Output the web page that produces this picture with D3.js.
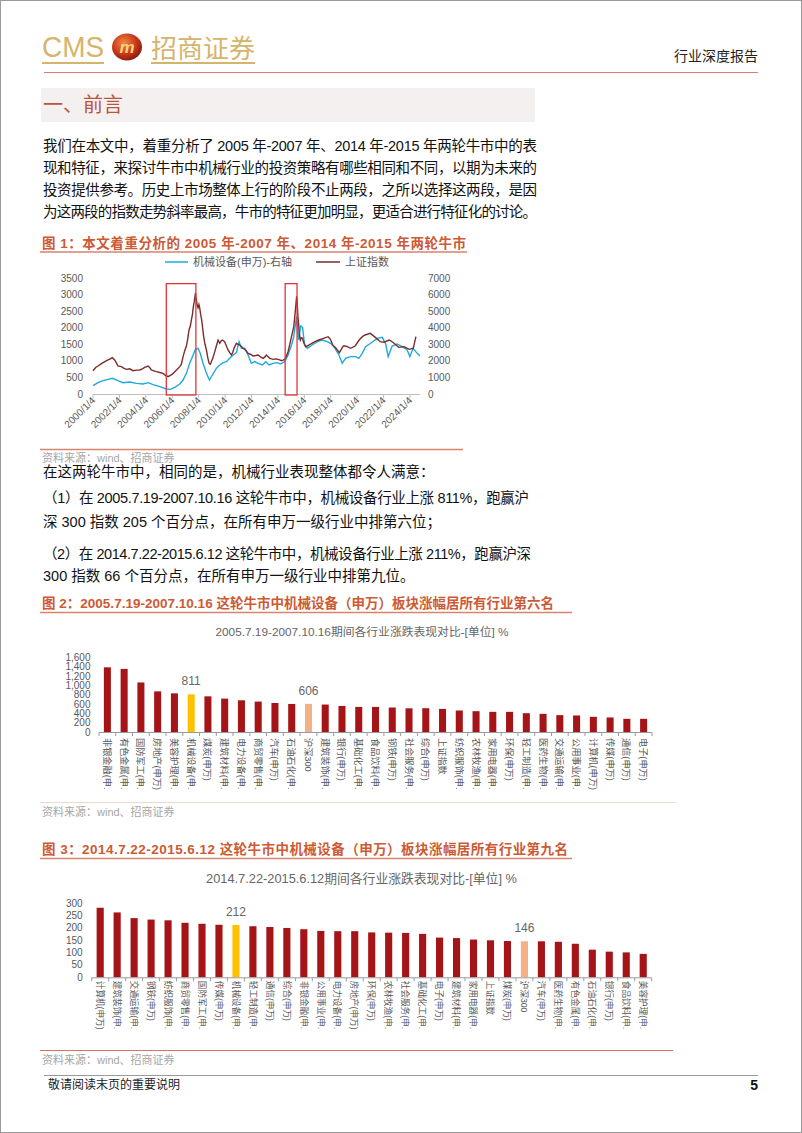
<!DOCTYPE html>
<html><head><meta charset="utf-8">
<script src="https://cdn.jsdelivr.net/npm/d3@7/dist/d3.min.js"></script>
<style>html,body{margin:0;padding:0;background:#fff}svg{display:block}</style>
</head><body>
<script>
// ---------- DATA ----------
// Chart 1: 上证指数 (left-axis units as drawn) and 机械设备(申万) (right axis)
const shYears = [2000.00,2000.20,2000.38,2000.58,2000.76,2000.96,2001.14,2001.31,2001.46,2001.64,2001.77,2001.89,2002.15,2002.32,2002.53,2002.78,2003.03,2003.28,2003.54,2003.74,2003.91,2004.17,2004.29,2004.42,2004.60,2004.80,2005.05,2005.30,2005.56,2005.71,2005.86,2006.01,2006.19,2006.36,2006.57,2006.69,2006.82,2006.94,2007.07,2007.17,2007.27,2007.37,2007.45,2007.53,2007.60,2007.67,2007.76,2007.80,2007.85,2007.90,2007.95,2008.02,2008.08,2008.15,2008.23,2008.30,2008.38,2008.48,2008.59,2008.69,2008.79,2008.89,2008.96,2009.09,2009.22,2009.34,2009.47,2009.60,2009.70,2009.80,2009.97,2010.10,2010.23,2010.35,2010.48,2010.58,2010.68,2010.86,2010.98,2011.11,2011.24,2011.36,2011.57,2011.74,2011.92,2012.12,2012.32,2012.50,2012.68,2012.88,2013.01,2013.13,2013.26,2013.38,2013.51,2013.64,2013.84,2014.02,2014.14,2014.27,2014.39,2014.52,2014.65,2014.77,2014.90,2015.03,2015.10,2015.20,2015.27,2015.34,2015.42,2015.47,2015.52,2015.57,2015.62,2015.70,2015.78,2015.86,2015.96,2016.10,2016.22,2016.50,2016.80,2017.10,2017.45,2017.80,2017.98,2018.15,2018.40,2018.65,2018.95,2019.10,2019.25,2019.50,2019.85,2020.15,2020.40,2020.60,2021.00,2021.40,2021.75,2022.05,2022.25,2022.45,2022.80,2023.15,2023.55,2023.95,2024.25,2024.45,2024.62,2024.72,2024.76];
const shValues = [700,800,845,900,945,990,1026,1060,1096,1026,940,845,825,780,744,760,704,720,724,760,805,845,800,724,700,673,650,623,543,530,563,600,673,740,825,900,1127,1300,1448,1650,1931,2050,2233,2400,2635,2800,3050,2900,2785,2650,2600,2700,2600,2400,2233,2000,1730,1500,1328,1100,926,900,976,1100,1277,1450,1629,1530,1600,1629,1580,1450,1328,1250,1177,1250,1379,1530,1500,1479,1430,1379,1320,1227,1200,1147,1160,1177,1120,1076,1120,1177,1120,1076,1060,1046,1060,1046,1030,1006,1020,1046,1150,1277,1500,1730,1850,2032,2300,2600,2950,2700,2334,2100,1831,1629,1700,1680,1550,1428,1448,1510,1580,1629,1680,1729,1650,1480,1379,1248,1448,1448,1428,1379,1448,1629,1730,1780,1830,1700,1578,1560,1600,1630,1530,1408,1428,1348,1379,1730];

const mechYears = [2000.00,2000.38,2000.76,2001.14,2001.46,2001.89,2002.27,2002.78,2003.28,2003.79,2004.17,2004.55,2005.05,2005.56,2005.86,2006.19,2006.57,2006.82,2007.07,2007.32,2007.53,2007.73,2007.95,2008.12,2008.33,2008.59,2008.82,2009.04,2009.34,2009.60,2009.85,2010.10,2010.35,2010.61,2010.86,2011.06,2011.24,2011.49,2011.74,2011.99,2012.25,2012.50,2012.83,2013.08,2013.33,2013.64,2013.94,2014.19,2014.52,2014.77,2015.03,2015.20,2015.33,2015.42,2015.50,2015.58,2015.72,2015.87,2016.02,2016.22,2016.60,2016.98,2017.36,2017.74,2017.99,2018.24,2018.62,2018.87,2019.12,2019.50,2019.88,2020.13,2020.38,2020.64,2021.02,2021.52,2021.90,2022.15,2022.35,2022.65,2023.03,2023.41,2023.79,2023.99,2024.24,2024.55,2024.76];
const mechValues = [504,684,804,886,946,804,684,724,644,604,684,564,442,302,282,402,604,844,1246,1852,2254,2656,2756,2454,1852,1246,844,1146,1548,1750,1890,1952,2152,2354,2496,3160,2758,2758,2354,1852,1952,1852,1750,1952,1750,1852,1890,1810,1952,2354,2958,3460,4200,4668,3700,3258,4104,4024,2958,2758,2958,3160,3258,3160,3060,2856,2354,1852,2152,2254,2254,2152,2454,2856,3060,3360,3420,3060,2254,2896,3020,2856,2656,2254,2758,2454,2294];

const bullPeriods = [[2005.55, 2007.79], [2014.55, 2015.45]];
const leftTicks = [0,500,1000,1500,2000,2500,3000,3500];
const rightTicks = [0,1000,2000,3000,4000,5000,6000,7000];
const yearTicks = [2000,2002,2004,2006,2008,2010,2012,2014,2016,2018,2020,2022,2024];

// Chart 2: 2005.7.19-2007.10.16
const cats2 = ["非银金融(申万)","有色金属(申万)","国防军工(申万)","房地产(申万)","美容护理(申万)","机械设备(申万)","煤炭(申万)","建筑材料(申万)","电力设备(申万)","商贸零售(申万)","汽车(申万)","石油石化(申万)","沪深300","建筑装饰(申万)","银行(申万)","基础化工(申万)","食品饮料(申万)","钢铁(申万)","社会服务(申万)","综合(申万)","上证指数","纺织服饰(申万)","农林牧渔(申万)","家用电器(申万)","环保(申万)","轻工制造(申万)","医药生物(申万)","交通运输(申万)","公用事业(申万)","计算机(申万)","传媒(申万)","通信(申万)","电子(申万)"];
const vals2 = [1393,1359,1067,875,832,811,768,719,683,655,625,604,606,591,561,540,540,527,510,512,497,463,448,434,434,405,391,363,356,327,313,284,284];
const ticks2 = [0,200,400,600,800,1000,1200,1400,1600];

// Chart 3: 2014.7.22-2015.6.12
const cats3 = ["计算机(申万)","建筑装饰(申万)","交通运输(申万)","钢铁(申万)","纺织服饰(申万)","商贸零售(申万)","国防军工(申万)","传媒(申万)","机械设备(申万)","轻工制造(申万)","通信(申万)","综合(申万)","非银金融(申万)","公用事业(申万)","电力设备(申万)","房地产(申万)","环保(申万)","农林牧渔(申万)","社会服务(申万)","基础化工(申万)","电子(申万)","建筑材料(申万)","家用电器(申万)","上证指数","煤炭(申万)","沪深300","汽车(申万)","医药生物(申万)","有色金属(申万)","石油石化(申万)","银行(申万)","食品饮料(申万)","美容护理(申万)"];
const vals3 = [282,263,240,234,231,221,217,213,212,207,204,200,195,188,187,187,182,181,180,176,161,159,153,150,147,146,146,144,136,112,104,101,95];
const ticks3 = [0,50,100,150,200,250,300];

// ---------- DRAW ----------
const W = 802, H = 1133;
const FONT = '"Liberation Sans","Noto Sans CJK SC",sans-serif';
const svg = d3.select("body").append("svg").attr("width", W).attr("height", H)
  .style("font-family", FONT);

svg.append("rect").attr("x",0.5).attr("y",0.5).attr("width",W-1).attr("height",H-1)
  .attr("fill","#fff").attr("stroke","#9a9a9a");

// Header
const gold = "#d6b46c";
svg.append("text").attr("x",42).attr("y",57).attr("font-size",30).attr("fill",gold)
  .attr("textLength",62).attr("lengthAdjust","spacingAndGlyphs").text("CMS");
const defs = svg.append("defs");
const rg = defs.append("radialGradient").attr("id","emb").attr("cx","40%").attr("cy","35%").attr("r","70%");
rg.append("stop").attr("offset","0%").attr("stop-color","#f08a3c");
rg.append("stop").attr("offset","60%").attr("stop-color","#c7361a");
rg.append("stop").attr("offset","100%").attr("stop-color","#7e1a0c");
svg.append("ellipse").attr("cx",127).attr("cy",47).attr("rx",15).attr("ry",13.5).attr("fill","url(#emb)");
svg.append("text").attr("x",127).attr("y",53).attr("text-anchor","middle").attr("font-size",17)
  .attr("font-weight","bold").attr("font-style","italic").attr("fill","#f6d27a").text("m");
svg.append("text").attr("x",151).attr("y",58).attr("font-size",26).attr("fill",gold)
  .attr("textLength",104).attr("lengthAdjust","spacingAndGlyphs").text("招商证券");
svg.append("rect").attr("x",42).attr("y",62).attr("width",62).attr("height",2).attr("fill",gold);
svg.append("rect").attr("x",151).attr("y",62).attr("width",104).attr("height",2).attr("fill",gold);
svg.append("text").attr("x",758).attr("y",61).attr("text-anchor","end").attr("font-size",14)
  .attr("fill","#222").text("行业深度报告");
svg.append("line").attr("x1",44).attr("x2",758).attr("y1",72.5).attr("y2",72.5)
  .attr("stroke","#d9806c").attr("stroke-width",1.2);

// Section heading
svg.append("rect").attr("x",41).attr("y",88).attr("width",494).attr("height",34).attr("fill","#f5f0f0");
svg.append("text").attr("x",43).attr("y",112).attr("font-size",20).attr("fill","#b9553d").text("一、前言");

// Paragraph text
function para(lines, ys, fit) {
  lines.forEach((t,i) => {
    const tx = svg.append("text").attr("x",43).attr("y",ys[i]).attr("font-size",14.5).attr("fill","#111").text(t);
    if (fit[i]) tx.attr("textLength", fit[i]).attr("lengthAdjust","spacing");
  });
}
para(["我们在本文中，着重分析了 2005 年-2007 年、2014 年-2015 年两轮牛市中的表",
      "现和特征，来探讨牛市中机械行业的投资策略有哪些相同和不同，以期为未来的",
      "投资提供参考。历史上市场整体上行的阶段不止两段，之所以选择这两段，是因",
      "为这两段的指数走势斜率最高，牛市的特征更加明显，更适合进行特征化的讨论。"],
     [151,173,195,217],[494,494,494,494]);
para(["在这两轮牛市中，相同的是，机械行业表现整体都令人满意：",
      "（1）在 2005.7.19-2007.10.16 这轮牛市中，机械设备行业上涨 811%，跑赢沪",
      "深 300 指数 205 个百分点，在所有申万一级行业中排第六位；",
      "（2）在 2014.7.22-2015.6.12 这轮牛市中，机械设备行业上涨 211%，跑赢沪深",
      "300 指数 66 个百分点，在所有申万一级行业中排第九位。"],
     [477,503,527,559,581],[0,486,0,488,0]);

// Figure titles & rules
const titleCol = "#cc5a34", ruleCol = "#d9836e";
function figTitle(t, y, w, lineY, lineX2) {
  svg.append("text").attr("x",42).attr("y",y).attr("font-size",13.5).attr("font-weight","bold")
    .attr("fill",titleCol).attr("textLength",w).attr("lengthAdjust","spacing").text(t);
  svg.append("line").attr("x1",40).attr("x2",lineX2).attr("y1",lineY).attr("y2",lineY)
    .attr("stroke",ruleCol).attr("stroke-width",1.6);
}
function source(y) {
  svg.append("text").attr("x",42).attr("y",y).attr("font-size",11).attr("fill","#a6a6a6").text("资料来源：wind、招商证券");
}
figTitle("图 1：本文着重分析的 2005 年-2007 年、2014 年-2015 年两轮牛市", 248, 424, 252, 467);
figTitle("图 2：2005.7.19-2007.10.16 这轮牛市中机械设备（申万）板块涨幅居所有行业第六名", 608, 512, 612.5, 572);
figTitle("图 3：2014.7.22-2015.6.12 这轮牛市中机械设备（申万）板块涨幅居所有行业第九名", 854, 526, 858.5, 572);

// ---------- Chart 1 ----------
const x1 = d3.scaleLinear().domain([2000, 2024.76]).range([93, 420]);
const yL = d3.scaleLinear().domain([0, 3500]).range([394, 278]);
const yR = d3.scaleLinear().domain([0, 7000]).range([394, 278]);
const axCol = "#595959";
const g1 = svg.append("g");
g1.append("line").attr("x1",93).attr("x2",420).attr("y1",394.5).attr("y2",394.5).attr("stroke","#bfbfbf");
yearTicks.forEach(yr => {
  g1.append("line").attr("x1",x1(yr)).attr("x2",x1(yr)).attr("y1",394.5).attr("y2",398.5).attr("stroke","#bfbfbf");
  g1.append("text").attr("transform",`translate(${x1(yr)+3},${401}) rotate(-45)`)
    .attr("text-anchor","end").attr("font-size",10).attr("fill",axCol).text(`${yr}/1/4`);
});
leftTicks.forEach(v => g1.append("text").attr("x",83).attr("y",yL(v)+3.5).attr("text-anchor","end")
  .attr("font-size",10).attr("fill",axCol).text(v));
rightTicks.forEach(v => g1.append("text").attr("x",428).attr("y",yR(v)+3.5).attr("text-anchor","start")
  .attr("font-size",10).attr("fill",axCol).text(v));

const mechLine = d3.line().x((d,i)=>x1(mechYears[i])).y(d=>yR(d));
const shLine = d3.line().x((d,i)=>x1(shYears[i])).y(d=>yL(d));
g1.append("path").attr("d", mechLine(mechValues)).attr("fill","none").attr("stroke","#1ea8e0").attr("stroke-width",1.4);
g1.append("path").attr("d", shLine(shValues)).attr("fill","none").attr("stroke","#7d2b2b").attr("stroke-width",1.4);
bullPeriods.forEach(p => {
  g1.append("rect").attr("x",x1(p[0])).attr("width",x1(p[1])-x1(p[0]))
    .attr("y",yL(3330)).attr("height",yL(-30)-yL(3330))
    .attr("fill","none").attr("stroke","#e0343a").attr("stroke-width",1.3);
});
// legend
g1.append("line").attr("x1",165).attr("x2",188).attr("y1",262).attr("y2",262).attr("stroke","#1ea8e0").attr("stroke-width",1.5);
g1.append("text").attr("x",193).attr("y",266).attr("font-size",11).attr("fill",axCol).text("机械设备(申万)-右轴");
g1.append("line").attr("x1",316).attr("x2",340).attr("y1",262).attr("y2",262).attr("stroke","#7d2b2b").attr("stroke-width",1.5);
g1.append("text").attr("x",345).attr("y",266).attr("font-size",11).attr("fill",axCol).text("上证指数");
svg.append("line").attr("x1",40).attr("x2",463).attr("y1",449.5).attr("y2",449.5).attr("stroke",ruleCol).attr("stroke-width",1.6);
source(462);

// ---------- Bar charts ----------
function shortLabel(s) { return s.length > 7 ? s.slice(0,6) + "." : s; }
function barColor(c) { return c === "机械设备(申万)" ? "#ffc000" : (c === "沪深300" ? "#f4b183" : "#a51417"); }

function barChart(o) {
  const g = svg.append("g");
  const x = d3.scaleBand().domain(o.cats).range([o.x0, o.x1]).paddingInner(0.58).paddingOuter(0.29);
  const y = d3.scaleLinear().domain([0, o.max]).range([o.y0, o.yTop]);
  g.append("text").attr("x",o.titleX).attr("y",o.titleY).attr("text-anchor","middle")
    .attr("font-size",o.titleSize).attr("fill","#666").text(o.title);
  o.ticks.forEach(v => g.append("text").attr("x",o.labX).attr("y",y(v)+3.5).attr("text-anchor","end")
    .attr("font-size",10).attr("fill",axCol).text(d3.format(",")(v)));
  g.selectAll("rect.bar").data(o.cats).join("rect").attr("class","bar")
    .attr("x",c=>x(c)).attr("width",x.bandwidth())
    .attr("y",(c,i)=>y(o.vals[i])).attr("height",(c,i)=>y(0)-y(o.vals[i]))
    .attr("fill",barColor);
  g.append("line").attr("x1",o.x0).attr("x2",o.x1).attr("y1",y(0)+0.5).attr("y2",y(0)+0.5).attr("stroke","#9a9a9a");
  const step = x.step();
  o.cats.forEach((c,i) => {
    const bx = o.x0 + i*step;
    g.append("line").attr("x1",bx).attr("x2",bx).attr("y1",y(0)+0.5).attr("y2",y(0)+4).attr("stroke","#9a9a9a");
  });
  g.append("line").attr("x1",o.x1).attr("x2",o.x1).attr("y1",y(0)+0.5).attr("y2",y(0)+4).attr("stroke","#9a9a9a");
  o.cats.forEach((c,i) => {
    const cx = x(c) + x.bandwidth()/2;
    g.append("text").attr("transform",`translate(${cx-o.labSize*0.38},${y(0)+o.labGap}) rotate(90)`)
      .attr("font-size",o.labSize).attr("fill",axCol).text(shortLabel(c));
    if (c === "机械设备(申万)" || c === "沪深300") {
      g.append("text").attr("x",cx).attr("y",y(o.vals[i])-9).attr("text-anchor","middle")
        .attr("font-size",12).attr("fill","#666").text(o.vals[i]);
    }
  });
}
barChart({cats:cats2, vals:vals2, ticks:ticks2, max:1600, x0:99, x1:652, y0:732, yTop:657.7,
  labX:90.5, labGap:6, labSize:9.2, title:"2005.7.19-2007.10.16期间各行业涨跌表现对比-[单位] %",
  titleX:362, titleY:636, titleSize:11.8});
svg.append("line").attr("x1",40).attr("x2",676).attr("y1",802.5).attr("y2",802.5).attr("stroke","#f1d9cf").attr("stroke-width",1.2);
source(816);
barChart({cats:cats3, vals:vals3, ticks:ticks3, max:300, x0:91.7, x1:651.7, y0:977.3, yTop:903.3,
  labX:82.7, labGap:3.5, labSize:8.6, title:"2014.7.22-2015.6.12期间各行业涨跌表现对比-[单位] %",
  titleX:361.5, titleY:882.5, titleSize:12.8});
svg.append("line").attr("x1",40).attr("x2",673).attr("y1",1050.5).attr("y2",1050.5).attr("stroke","#d9706a").attr("stroke-width",1.2);
source(1064);

// Footer
svg.append("line").attr("x1",44).attr("x2",758).attr("y1",1075.5).attr("y2",1075.5).attr("stroke","#9a9a9a");
svg.append("text").attr("x",48).attr("y",1089).attr("font-size",12).attr("fill","#222").text("敬请阅读末页的重要说明");
svg.append("text").attr("x",758).attr("y",1090).attr("text-anchor","end").attr("font-size",14).attr("font-weight","bold").attr("fill","#111").text("5");
</script>
</body></html>
